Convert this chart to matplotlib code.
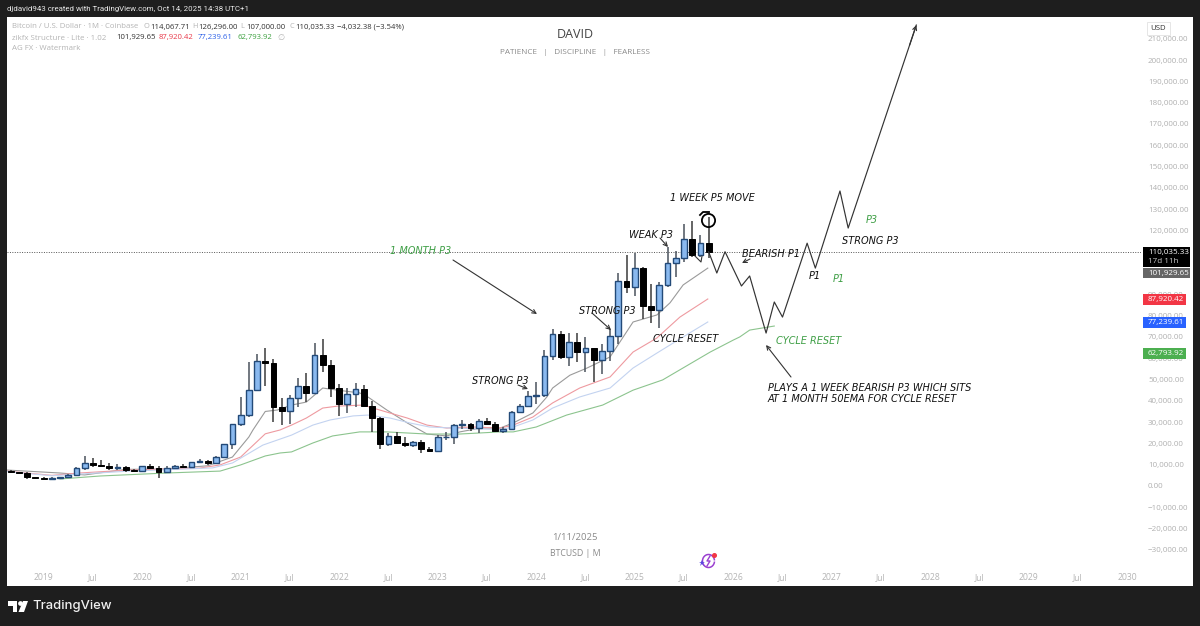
import matplotlib
matplotlib.use("Agg")
import matplotlib.pyplot as plt
from matplotlib.patches import Rectangle, Polygon
import numpy as np

W, H = 1200, 626

# ---- monthly candles, Sep 2018 onward (month 0 = Jan 2019)
months = list(range(-4, 82))
opens = [7010,6625,6300,4000,3700,3430,3815,4100,5270,8570,10800,10080,9600,8300,9150,7550,
         7190,9350,8550,6420,8630,9450,9140,11350,11650,10780,13800,19700,
         29000,33100,45200,58800,57700,37300,35000,41500,47100,43800,61300,57000,
         46200,38500,43200,45500,37600,31800,19900,23300,20000,19400,20500,17200,
         16550,23100,23150,28500,29200,27200,30470,29230,25940,26960,34650,37720,
         42280,42580,61180,71330,60670,67500,62770,64620,58970,63330,70280,96400,
         93400,102400,84350,82550,94200,104600,107150,115760,108250,114067.71]
highs = [7400,6780,6600,4200,4100,4200,4100,5600,9000,13880,13150,12300,10900,10400,9500,7750,
         9550,10500,9200,9500,10060,10400,11450,12480,12070,14100,19500,29300,
         41950,58350,61800,64900,59600,41300,42500,50500,52900,67000,69000,59100,
         47900,45800,48200,47400,40000,32400,24700,25200,22800,21100,21500,18400,
         23900,25250,29200,31000,29800,31400,31800,30200,27500,35000,38400,44700,
         48970,64000,73800,72800,72000,71950,70000,65000,66500,73600,99800,108300,
         109350,102750,95000,95800,112000,110500,123200,124500,117900,126296]
lows = [6100,6200,3500,3100,3400,3400,3700,4100,5300,7450,9100,9400,7700,7300,6500,6400,
        6850,8450,3850,6150,8100,8900,8950,11100,9900,10400,13200,17600,
        28100,32300,45000,47000,30000,28800,29300,37300,39600,43300,53300,42000,
        32900,34300,37200,37700,25400,17600,18900,19500,18100,18200,15500,16300,
        16500,21400,19600,26900,25800,24800,28900,25300,24900,26550,34100,37600,
        38500,41900,59000,59600,56500,58400,53500,49000,52500,58900,66800,90500,
        89100,78200,76600,74400,93400,98200,105100,107300,107300,107000]
closes = [6625,6300,4000,3700,3430,3815,4100,5270,8570,10800,10080,9600,8300,9150,7550,7190,
          9350,8550,6420,8630,9450,9140,11350,11650,10780,13800,19700,29000,
          33100,45200,58800,57700,37300,35000,41500,47100,43800,61300,57000,46200,
          38500,43200,45500,37600,31800,19900,23300,20000,19400,20500,17200,16550,
          23100,23150,28500,29200,27200,30470,29230,25940,26960,34650,37720,42280,
          42580,61180,71330,60670,67500,62770,64620,58970,63330,70280,96400,93400,
          102400,84350,82550,94200,104600,107150,115760,108250,114050,110035.33]

# ---- indicator lines (month position, price)
gray_m = [-4.5,2,5,10,15,20,23,25,25.5,27,28.5,30.2,32,34,35.8,38.5,39.5,41.8,44.3,46.7,49.1,50.7,53.2,55.6,57.2,59.6,61.3,62,64.1,66.2,69,71.8,74.7,76.3,77.9,80.9]
gray_p = [7500,6100,5200,7800,8000,9500,13600,23000,26300,35000,35700,38000,39400,46000,45000,43700,41800,35700,29600,24400,23500,25400,27200,27200,29600,34300,41800,46000,52000,55400,60600,77000,80300,86000,94400,102300]
red_m = [-4.5,1,4.4,10,19,21.5,24,27,28.8,30.2,32,34,35.8,38.9,41.8,44.3,46.7,49.1,52.3,55.6,57.2,59.6,62,65.3,69,71.8,74.7,77.5,80.9]
red_p = [7000,5000,6100,7400,8400,9900,13600,24500,26300,28600,31900,36600,37500,38000,34700,31900,28600,27200,27700,27200,28600,32400,39000,46000,51200,62900,69500,79300,87800]
blue_m = [-4.5,1,4.4,10,20.6,23,26.7,30.2,32.8,34.9,37.7,39.5,42.2,44.6,47,49.9,55.6,57.2,59.6,62,65.3,69,71.8,74.7,77.9,80.9]
blue_p = [6800,4800,5600,6900,8500,10800,19200,23900,28600,31000,32900,33300,31900,29600,27700,27200,26500,27700,31000,36600,41800,46000,55400,62400,70000,77000]
green_m = [2,6.9,15,21.5,24,27,28.8,30.2,32.8,35.2,38.5,41.8,46.7,50.7,55.6,57.2,60,63.7,68.1,71.8,75.4,81.2,84,84.8,86,89]
green_p = [3300,4700,6100,7000,9900,14100,15500,16000,20200,23500,25400,25400,24400,24400,25400,25400,27700,33300,38000,45000,49800,62900,68500,70000,73200,75100]

# ---- drawn projection path
path_m = [81,82,83,85,86,88,89,90,93,94,97,98,106.3]
path_p = [110000,100000,110000,93900,98600,71800,86400,79300,114000,102300,138500,121100,216400]

last_price = 110035.33
price_ticks = list(range(-30000, 210001, 10000))
x_labels = ["2019","Jul","2020","Jul","2021","Jul","2022","Jul","2023","Jul","2024","Jul","2025","Jul","2026","Jul","2027","Jul","2028","Jul","2029","Jul","2030"]
x_pos = list(range(0, 133, 6))

plt.rcParams['font.family'] = ['Open Sans', 'DejaVu Sans']
fig = plt.figure(figsize=(W/100, H/100), dpi=100, facecolor='#1e1e1e')

def fx(x): return x / W
def fy(y): return 1 - y / H

def px_text(x, y, s, **kw):
    kw.setdefault('va', 'center')
    kw.setdefault('zorder', 8)
    return fig.text(fx(x), fy(y), s, **kw)

def px_rect(x0, y0, x1, y1, color, z=5):
    r = Rectangle((fx(x0), fy(y1)), fx(x1 - x0), (y1 - y0) / H, transform=fig.transFigure,
                  facecolor=color, edgecolor='none', linewidth=0, zorder=z)
    fig.add_artist(r)
    return r

px_rect(6.5, 17, 1193, 586, 'white', z=-1)

# main axes: px x 7..1141, y 17..568
Y0, SC = 486.0, 0.00213
ax = fig.add_axes([fx(7), fy(568), fx(1141 - 7), (568 - 17) / H], zorder=1)
ax.patch.set_alpha(0)
ax.set_xlim((7 - 43.6) / 8.21, (1141 - 43.6) / 8.21)
ax.set_ylim((Y0 - 568) / SC, (Y0 - 17) / SC)
for s in ax.spines.values():
    s.set_visible(False)
ax.yaxis.tick_right()
ax.set_yticks(price_ticks)
ax.set_yticklabels([f"{v:,.2f}".replace('-', '\u2212') for v in price_ticks], fontsize=5.8, color='#b0b0b0')
ax.set_xticks(x_pos)
ax.set_xticklabels(x_labels, fontsize=6.2, color='#b4b4b4')
ax.tick_params(axis='y', length=0, pad=5)
ax.tick_params(axis='x', length=0, pad=3.5)

# indicator lines
ax.plot(gray_m, gray_p, color='#9a9a9a', lw=0.8, zorder=2)
ax.plot(red_m, red_p, color='#ee9aa0', lw=0.8, zorder=2)
ax.plot(blue_m, blue_p, color='#c3d3f0', lw=0.8, zorder=2)
ax.plot(green_m, green_p, color='#8cc48e', lw=0.8, zorder=2)

# last-price line
ax.axhline(last_price, color='#555555', lw=0.7, ls=(0, (1, 1.5)), zorder=1)

# candles
m = np.array(months); o = np.array(opens); c = np.array(closes)
h = np.array(highs); l = np.array(lows)
up = c >= o
ax.vlines(m[up], l[up], h[up], color='#4a525c', lw=1.1, zorder=3)
ax.vlines(m[~up], l[~up], h[~up], color='#3a3a3a', lw=1.1, zorder=3)
ax.bar(m[up], (c - o)[up], bottom=o[up], width=0.7, color='#8ab9ef', edgecolor='#234a78', linewidth=1.0, zorder=4)
ax.bar(m[~up], (c - o)[~up], bottom=o[~up], width=0.72, color='#000000', edgecolor='#000000', linewidth=0.7, zorder=4)

# projection
ax.plot(path_m, path_p, color='#333333', lw=0.85, zorder=5)
ax.annotate('', xy=(path_m[-1], path_p[-1]),
            xytext=(path_m[-2] + 0.9 * (path_m[-1] - path_m[-2]), path_p[-2] + 0.9 * (path_p[-1] - path_p[-2])),
            arrowprops=dict(arrowstyle='->', color='#333333', lw=0.85, mutation_scale=7, shrinkA=0, shrinkB=0), zorder=5)

# top strip
px_text(7, 9, "djdavid943 created with TradingView.com, Oct 14, 2025 14:38 UTC+1", color='#e8e8e8', fontsize=5.7, fontfamily='Roboto')

# legend rows
lg = '#b4b4b4'; dk = '#333333'
px_text(12, 27, "Bitcoin / U.S. Dollar \u00b7 1M \u00b7 Coinbase", color=lg, fontsize=5.6)
for x, a, b in [(144, "O", "114,067.71"), (192, "H", "126,296.00"), (240, "L", "107,000.00"), (289, "C", "110,035.33")]:
    px_text(x, 27, a, color=lg, fontsize=5.3)
    px_text(x + 6, 27, b, color=dk, fontsize=5.6)
px_text(337, 27, "\u22124,032.38 (\u22123.54%)", color=dk, fontsize=5.5)
px_text(12, 38, "zikfx Structure \u00b7 Lite \u00b7 1.02", color=lg, fontsize=5.7)
px_text(116, 38, "101,929.65", color=dk, fontsize=5.6)
px_text(158.5, 38, "87,920.42", color='#e8394a', fontsize=5.6)
px_text(198, 38, "77,239.61", color='#2e62e8', fontsize=5.6)
px_text(237.5, 38, "62,793.92", color='#3da040', fontsize=5.6)
px_text(277, 38, "\u2205", color=lg, fontsize=5.9, fontfamily='DejaVu Sans')
px_text(12, 49, "AG FX \u00b7 Watermark", color=lg, fontsize=5.7)

# watermark
px_text(575, 35, "DAVID", color='#444444', fontsize=9, ha='center')
px_text(575, 53, "PATIENCE   |   DISCIPLINE   |   FEARLESS", color='#8a8a8a', fontsize=5.9, ha='center')
px_text(575, 537, "1/11/2025", color='#8a8a8a', fontsize=6.8, ha='center')
px_text(575, 553, "BTCUSD | M", color='#8a8a8a', fontsize=6.3, ha='center')

# USD box
r = Rectangle((fx(1147), fy(35)), fx(23), 13 / H, transform=fig.transFigure, facecolor='white', edgecolor='#e2e2e2', lw=0.6, zorder=5)
fig.add_artist(r)
px_text(1158.5, 28.5, "USD", color='#333333', fontsize=5.6, ha='center')

# price labels
px_rect(1143, 247, 1190, 267, '#000000')
px_text(1148, 252.5, "110,035.33", color='white', fontsize=5.8)
px_text(1148, 261.5, "17d 11h", color='#cccccc', fontsize=5.8)
px_rect(1143, 268, 1190, 278, '#666666')
px_text(1148, 273, "101,929.65", color='white', fontsize=5.8)
px_rect(1143, 294, 1186, 305, '#f23645')
px_text(1148, 299.5, "87,920.42", color='white', fontsize=5.8)
px_rect(1143, 317, 1186, 328, '#2962ff')
px_text(1148, 322.5, "77,239.61", color='white', fontsize=5.8)
px_rect(1143, 348, 1186, 359, '#4caf50')
px_text(1148, 353.5, "62,793.92", color='white', fontsize=5.8)

# handwritten annotations
BK = '#111111'; GR = '#3f9f46'
hand = dict(fontfamily='DejaVu Sans', style='italic', fontsize=7, ha='center')
notes = [
    (712, 198, "1 WEEK P5 MOVE", BK),
    (421, 251, "1 MONTH P3", GR),
    (500, 381, "STRONG P3", BK),
    (607, 311, "STRONG P3", BK),
    (651, 235, "WEAK P3", BK),
    (686, 339, "CYCLE RESET", BK),
    (771, 254, "BEARISH P1", BK),
    (815, 276, "P1", BK),
    (839, 279, "P1", GR),
    (872, 220, "P3", GR),
    (870, 241, "STRONG P3", BK),
    (809, 341, "CYCLE RESET", GR),
]
for x, y, s, col in notes:
    px_text(x, y, s, color=col, **hand)
px_text(768, 388, "PLAYS A 1 WEEK BEARISH P3 WHICH SITS", color=BK, **{**hand, 'ha': 'left'})
px_text(768, 399, "AT 1 MONTH 50EMA FOR CYCLE RESET", color=BK, **{**hand, 'ha': 'left'})

arrows = [((453, 260), (537, 314)), ((518, 385), (528, 389)), ((592, 313), (611, 330)),
          ((660, 238), (668, 247)), ((750, 259), (742, 263)), ((791, 377), (766, 345))]
for (x0, y0), (x1, y1) in arrows:
    ax.annotate('', xy=(fx(x1), fy(y1)), xytext=(fx(x0), fy(y0)), xycoords='figure fraction', textcoords='figure fraction',
                arrowprops=dict(arrowstyle='->', color='#333333', lw=0.8, mutation_scale=7, shrinkA=0, shrinkB=0), zorder=6, annotation_clip=False)

# small hook at recent candles
fig.add_artist(plt.Line2D([fx(695), fx(701), fx(702)], [fy(256), fy(262), fy(256)], transform=fig.transFigure, color='#333333', lw=0.8, zorder=6))

# hand-drawn circle on the last wick
ax.plot([80.9], [125000], marker='o', ms=9.5, mfc='none', mec='black', mew=1.3, zorder=7, clip_on=False)
fig.add_artist(plt.Line2D([fx(700), fx(703), fx(709)], [fy(215), fy(212), fy(212)], transform=fig.transFigure, color='black', lw=1.3, zorder=7))

# icon
theta = np.linspace(0.2, 2 * np.pi - 0.2, 60)
fig.add_artist(plt.Line2D(fx(708.5 + 6 * np.cos(theta)), fy(561 + 6.5 * np.sin(theta)), transform=fig.transFigure, color='#9a3fd0', lw=1.1, zorder=6))
fig.add_artist(plt.Line2D([fx(710), fx(707), fx(710), fx(707)], [fy(556), fy(561), fy(561), fy(566)], transform=fig.transFigure, color='#9a3fd0', lw=1, zorder=6))
fig.add_artist(plt.Line2D([fx(714)], [fy(555)], marker='o', ms=2.6, color='#f23645', transform=fig.transFigure, zorder=7))
fig.add_artist(plt.Line2D([fx(702)], [fy(563)], marker='*', ms=4.5, color='#5b45e0', mew=0, transform=fig.transFigure, zorder=7))

# TradingView logo
def poly(pts, col='white'):
    fig.add_artist(Polygon([(fx(a), fy(b)) for a, b in pts], closed=True, transform=fig.transFigure, facecolor=col, edgecolor='none', zorder=6))
poly([(8, 601), (17, 601), (17, 612), (13, 612), (13, 606), (8, 606)])
fig.add_artist(plt.Line2D([fx(19.5)], [fy(603)], marker='o', ms=3.4, color='white', mew=0, transform=fig.transFigure, zorder=6))
poly([(23, 601), (28, 601), (24, 612), (18.5, 612)])
px_text(32, 606.5, "TradingView", color='#f0f0f0', fontsize=9.4, fontfamily='Inter', fontweight='medium')

fig.savefig('out.png', dpi=100, facecolor=fig.get_facecolor())
